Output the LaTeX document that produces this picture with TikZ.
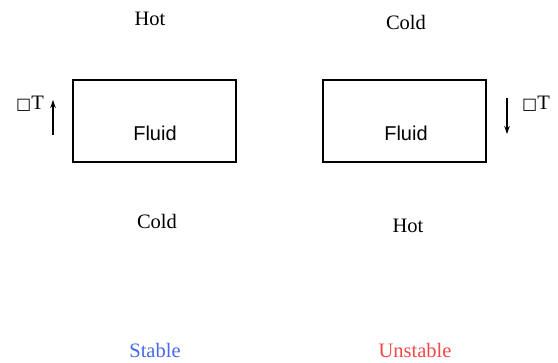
\documentclass[tikz,border=0pt]{standalone}
\usepackage{fontspec}
\setmainfont{Liberation Serif}
\newfontfamily\arialfont{Liberation Sans}
\newfontfamily\symfont{DejaVu Sans}
\usetikzlibrary{arrows.meta}
\definecolor{stableblue}{RGB}{72,104,232}
\definecolor{unstablered}{RGB}{240,72,72}
\newcommand{\gradsym}{{\symfont\fontsize{16}{20}\selectfont □}T}
\tikzset{
  label/.style={font=\fontsize{20.5}{24}\selectfont, inner sep=0pt},
  fluidbox/.style={draw, line width=1.4pt, minimum width=163pt, minimum height=82pt, inner sep=0pt},
  fluidtext/.style={font=\arialfont\fontsize{20}{24}\selectfont, inner sep=0pt},
  gradarrow/.style={-{Stealth[length=8pt,width=5.5pt]}, line width=1.1pt}
}
\begin{document}
\begin{tikzpicture}[x=1pt,y=-1pt]
  \useasboundingbox (0,0) rectangle (558,363);
  % stable configuration
  \node[label] (hotA) at (150,19) {Hot};
  \node[fluidbox] (boxA) at (154.5,121) {};
  \node[fluidtext] (fluidA) at (155,133) {Fluid};
  \node[label] (coldA) at (157,221) {Cold};
  \coordinate (upS) at (53,135);
  \coordinate (upE) at (53,100);
  \draw[gradarrow] (upS) -- (upE);
  \node[label] (gradA) at (30,104) {\gradsym};
  \node[label, text=stableblue] (stable) at (155,350) {Stable};
  % unstable configuration
  \node[label] (coldB) at (406,22) {Cold};
  \node[fluidbox] (boxB) at (404.5,121) {};
  \node[fluidtext] (fluidB) at (406,133) {Fluid};
  \node[label] (hotB) at (408,226) {Hot};
  \coordinate (dnS) at (507,98);
  \coordinate (dnE) at (507,134);
  \draw[gradarrow] (dnS) -- (dnE);
  \node[label] (gradB) at (536,104) {\gradsym};
  \node[label, text=unstablered] (unstable) at (415,350) {Unstable};
\end{tikzpicture}
\end{document}
